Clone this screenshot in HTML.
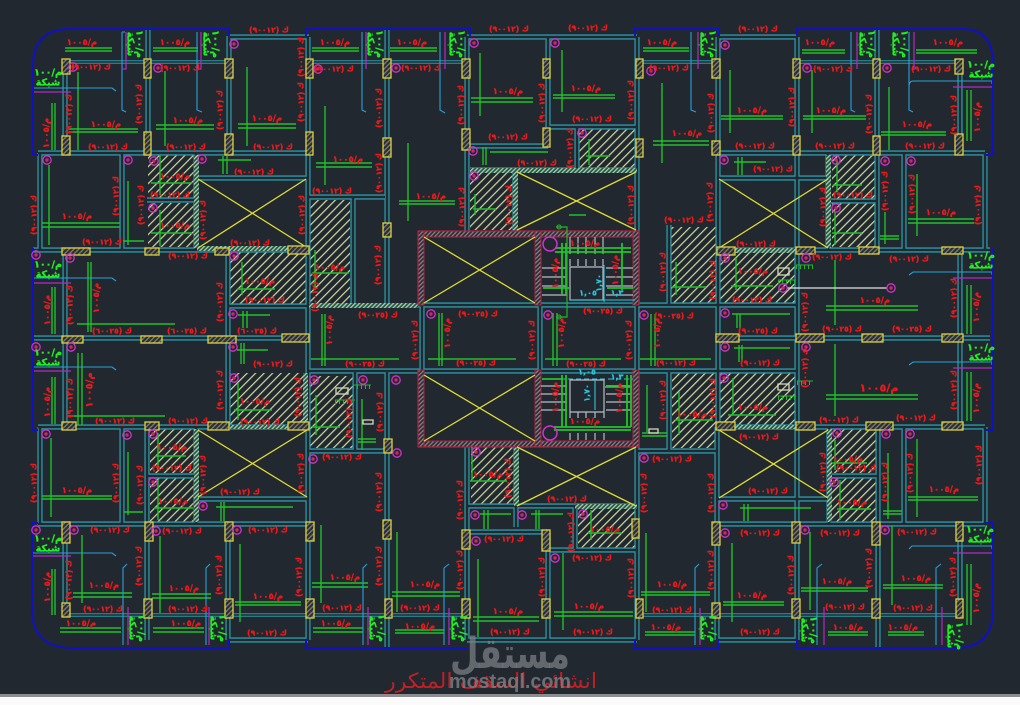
<!DOCTYPE html>
<html lang="ar"><head><meta charset="utf-8"><title>Structural plan</title>
<style>
html,body{margin:0;padding:0;background:#212830}
svg{display:block}
text{font-family:"DejaVu Sans","Liberation Sans",sans-serif;font-weight:bold;text-anchor:middle;dominant-baseline:central;direction:rtl}
.r text,text.r{fill:#ee1a1a;font-size:7.6px;stroke:#ee1a1a;stroke-width:.35px}
.d text{fill:#ee1a1a;font-size:8.6px;letter-spacing:1px;stroke:#ee1a1a;stroke-width:.3px}
.p text{fill:#22f022;font-size:9.5px;stroke:#22f022;stroke-width:.35px}
.y text{fill:#29c8e0;font-size:8px;stroke:#29c8e0;stroke-width:.2px}
.k rect{fill:url(#hk);stroke:#dfd23c;stroke-width:1.3}
.h rect{fill:url(#hy)}
.s rect{fill:url(#hs)}
.w rect{fill:url(#hr);stroke:#b3203e;stroke-width:1}
</style></head>
<body>
<svg xmlns="http://www.w3.org/2000/svg" width="1020" height="705" viewBox="0 0 1020 705">
<defs>
<pattern id="hy" width="6" height="6" patternUnits="userSpaceOnUse" patternTransform="rotate(45)"><rect width="6" height="6" fill="#212830"/><rect width="1.2" height="6" fill="#d0dba0"/></pattern>
<pattern id="hk" width="3.4" height="3.4" patternUnits="userSpaceOnUse" patternTransform="rotate(45)"><rect width="3.4" height="3.4" fill="#2a2d30"/><rect width="1.4" height="3.4" fill="#777a72"/></pattern>
<pattern id="hs" width="3" height="3" patternUnits="userSpaceOnUse" patternTransform="rotate(45)"><rect width="3" height="3" fill="#24505a"/><rect width="1.3" height="3" fill="#a9d596"/></pattern>
<pattern id="hr" width="3" height="3" patternUnits="userSpaceOnUse" patternTransform="rotate(45)"><rect width="3" height="3" fill="#2a2b33"/><rect width="1.3" height="3" fill="#8b7f88"/></pattern>
<g id="c"><circle r="4.2" fill="none" stroke="#d032d0" stroke-width="1.3"/><circle r="1.7" fill="#d8245a"/></g>
<path id="b" d="M65 62V155M148 29V155M229 36V155M229 37H309M308 37V640M387 29V305M467 37V232M467 37H637M548 37V127M548 127H637M467 146H548M470 170H637M637 37V232M577 127V170M515 170V232M308 197H385M353 197V305M418 305H796M309 371H796M422 305V372M540 305V372M637 225V450M669 225V305M669 372V451M718 37V430M797 37V430M717 250H990M717 338H990M33 338H308M717 427H985M33 250H308M38 427H308M38 153H308M717 153H985M40 153V250M122 153V250M196 153V250M196 178H308M147 200H196M228 250V428M65 250V430M228 306H308M40 427V525M122 427V525M147 427V640M196 427V523M148 476H196M196 499H308M38 524H308M65 525V616M228 524V640M228 640H308M308 451H387M355 372V451M387 372V648M467 445V640M516 447V527M468 506H637M468 532H548M548 532V640M575 506V550M548 550H637M637 447V640M467 640H637M637 451H717M717 427V640M717 499H829M717 640H797M797 427V640M829 427V524M829 476H878M878 427V648M904 427V524M985 427V524M717 524H985M960 524V615M718 37H797M877 29V153M960 62V153M985 153V250M904 153V250M877 153V250M828 153V250M717 178H828M828 201H877M960 250V430"/>
<path id="t" d="M65 62H229M309 62H467M640 62H718M797 62H960M65 615H467M640 615H957"/>
</defs>
<rect width="1020" height="705" fill="#212830"/>

<!-- hatched slabs -->
<g class="h">
<rect x="148" y="155" width="47" height="46"/><rect x="148" y="203" width="47" height="44"/>
<rect x="309" y="200" width="41" height="103"/><rect x="578" y="129" width="57" height="39"/>
<rect x="470" y="173" width="43" height="57"/><rect x="670" y="227" width="47" height="78"/>
<rect x="832" y="155" width="44" height="46"/><rect x="832" y="203" width="44" height="44"/>
<rect x="230" y="252" width="77" height="53"/><rect x="720" y="252" width="76" height="52"/>
<rect x="230" y="373" width="77" height="52"/><rect x="310" y="376" width="43" height="72"/>
<rect x="720" y="373" width="76" height="54"/><rect x="672" y="373" width="45" height="75"/>
<rect x="150" y="429" width="45" height="44"/><rect x="150" y="478" width="45" height="44"/>
<rect x="471" y="447" width="44" height="57"/><rect x="578" y="509" width="57" height="39"/>
<rect x="831" y="429" width="46" height="44"/><rect x="831" y="478" width="46" height="44"/>
</g>

<!-- beams -->
<g fill="none">
<use href="#b" stroke="#2b97a5" stroke-width="5.2"/><use href="#b" stroke="#212830" stroke-width="2.6"/>
<use href="#t" stroke="#2b97a5" stroke-width="3.6"/><use href="#t" stroke="#212830" stroke-width="1.4"/>
</g>
<!-- dense strips -->
<g class="s">
<rect x="470" y="168" width="167" height="5"/><rect x="513" y="170" width="5" height="62"/>
<rect x="194" y="155" width="5" height="93"/><rect x="197" y="246" width="111" height="5"/>
<rect x="826" y="155" width="5" height="93"/><rect x="735" y="248" width="61" height="5"/>
<rect x="309" y="303" width="109" height="5"/><rect x="230" y="425" width="58" height="4"/>
<rect x="735" y="425" width="61" height="4"/><rect x="194" y="429" width="5" height="93"/>
<rect x="827" y="429" width="5" height="93"/><rect x="575" y="504" width="62" height="5"/>
<rect x="514" y="447" width="5" height="59"/><rect x="303" y="373" width="5" height="50"/>
</g>

<!-- core -->
<g class="w">
<rect x="418" y="231" width="221" height="6"/><rect x="418" y="231" width="6" height="74"/><rect x="535" y="231" width="6" height="74"/><rect x="633" y="231" width="6" height="74"/>
<rect x="418" y="441" width="221" height="6"/><rect x="418" y="370" width="6" height="77"/><rect x="535" y="370" width="6" height="77"/><rect x="633" y="370" width="6" height="77"/>
</g>
<path d="M418 231H639V305M418 231V305M639 372V447H418V372" fill="none" stroke="#b3203e" stroke-width="1.2"/>

<!-- yellow crosses -->
<path fill="none" stroke="#e0dc34" stroke-width="1.3" d="M198 179L306 247M306 179L198 248M719 179L828 248M828 179L719 248M517 172L636 230M636 172L517 230M424 237L535 303M535 237L424 303M424 375L535 441M535 375L424 441M198 430L307 497M307 430L198 497M719 430L828 498M828 430L719 498M517 447L636 506M636 447L517 506"/>

<!-- stairs -->
<path fill="none" stroke="#b9bcc4" stroke-width="1.2" d="M570 237V254M578 237V254M586 237V254M595 237V254M603 237V254M570 259V266M578 259V266M586 259V266M595 259V266M603 259V266M570 267H603V300H570ZM542 268H567M542 277H567M542 286H567M542 295H567M606 268H633M606 277H633M606 286H633M606 295H633M570 380H604V412H570ZM541 386H567M541 394H567M541 402H567M541 410H567M606 386H631M606 394H631M606 402H631M606 410H631M570 412V418M578 412V418M586 412V418M595 412V418M604 412V418M570 433V440M578 433V440M586 433V440M595 433V440M604 433V440"/>
<path fill="none" stroke="#2bc4dc" stroke-width="1.1" d="M570 300H635M604 265V302M595 380V410"/>
<path fill="none" stroke="#2bc4dc" stroke-width="1.1" stroke-dasharray="5 3" d="M560 379H633"/>

<!-- rebars -->
<path fill="none" stroke="#20c02a" stroke-width="1.4" d="M65 48H112M65 51H112M153 48H198M153 51H198M78 72V150M69 129H138M69 132H138M52 103V150M55 103V150M165 71V146M156 125H214M156 129H214M247 67V146M238 124H296M238 128H296M312 48H359M312 51H359M390 48H437M390 51H437M325 106V185M316 163H372M316 167H372M408 143V221M399 201H455M399 204H455M480 53V116M471 98H533M471 102H533M562 50V112M553 95H615M553 98H615M483 147V165M486 147V165M490 152H548M589 139V165M586 156H610M475 194V215M473 209H496M569 215H586M643 48H689M643 51H689M802 50H845M802 53H845M916 50H977M916 53H977M662 83V163M653 141H709M653 145H709M730 70V133M721 116H783M721 119H783M812 70V133M803 116H866M803 119H866M889 87V150M881 132H946M881 135H946M967 90V141M971 90V141M738 157V175M742 157V175M734 162H766M837 160V192M833 185H862M835 212V245M832 233H862M880 236H899M880 239H899M885 212V244M917 174V236M908 219H974M908 223H974M49 165V245M42 223H120M42 227H120M128 181V245M123 241H144M160 155V195M151 183H192M160 210V246M151 233H192M223 156V174M227 156V174M218 160H251"/>
<path fill="none" stroke="#20c02a" stroke-width="1.4" d="M88 262V332M91 262V332M77 324H175M52 287V334M55 287V334M242 262V295M237 289H275M312 273H349M315 250V290M243 311V328M247 311V328M238 315H270M78 353V425M82 353V425M67 416H165M52 377V424M55 377V424M241 343V364M244 343V364M237 350H268M238 383V420M234 410H272M316 395V435M312 427H340M362 399V450M358 439H376M358 442H376M322 314V366M325 314V366M311 359H399M439 313V366M442 313V366M428 359H516M553 313V366M557 313V366M545 359H621M651 314V366M655 314V366M640 359H711M835 260V325M826 306H918M826 310H918M967 285V334M971 285V334M835 344V416M826 395H918M826 399H918M967 372V421M971 372V421M737 314V328M740 314V328M732 314H790M739 345V362M742 345V362M734 348H790M736 258V290M731 286H773M733 378V415M728 415H776M676 262V295M672 287H706M679 392V435M675 420H713M647 385V432M642 433H667M642 436H667"/>
<path fill="none" stroke="#20c02a" stroke-width="1.4" d="M51 438V517M42 496H112M42 499H112M128 452V515M124 512H143M155 456H186M158 433V470M154 508H193M158 480V520M221 502V521M224 502V521M216 507H293M82 535V603M73 593H132M73 597H132M52 569V615M55 569V615M160 536V613M152 594H211M152 598H211M240 544V622M235 602H301M235 605H301M321 525V603M312 583H368M312 587H368M397 532V612M392 592H460M392 596H460M60 628H121M60 632H121M153 628H204M153 632H204M313 628H363M313 632H363M395 630H444M395 633H444M478 559V637M473 617H539M473 621H539M563 553V630M554 612H633M554 616H633M646 533V612M641 592H710M641 595H710M645 632H695M645 635H695M484 510V529M488 510V529M480 514H511M536 510V529M539 510V529M531 514H563M472 447V480M470 481H507M591 510V540M588 533H622M744 504V521M748 504V521M740 508H811M732 543V622M723 602H784M723 605H784M810 532V610M801 588H868M801 591H868M892 526V605M883 585H943M883 588H943M828 632H868M828 635H868M888 632H924M888 635H924M967 564V625M971 564V625M835 440V470M832 463H867M840 480V520M837 509H871M888 453V519M883 511H902M883 514H902M917 439V517M908 497H978M908 500H978"/>
<path fill="none" stroke="#22c42a" stroke-width="1.8" d="M555 248H631M555 252H631M562 243V294M566 243V294M622 243V290M543 288H570M607 288H633M554 427H631M554 430H631M562 375V427M566 375V427M627 375V427M631 375V427M542 379H563M605 387H632"/>
<path fill="none" stroke="#22b62a" stroke-width="1.2" d="M556 227H567V317H556"/><circle cx="559" cy="227" r="2" fill="none" stroke="#22b62a"/><circle cx="559" cy="317" r="2" fill="none" stroke="#22b62a"/>
<path fill="none" stroke="#22b62a" stroke-width="1" d="M353 385H371M335 400H355M796 265H813M778 280H796M797 381H813M778 396H796"/>
<path fill="none" stroke="#22b62a" stroke-width="4" stroke-dasharray="1 3" d="M353 387H371M335 402H355M796 267H813M778 282H796M797 383H813M778 398H796"/>
<path fill="none" stroke="#d9dbc0" stroke-width="1.3" d="M336 388h12v6h-12zM363 420h10v4h-10zM778 268h11v7h-11zM778 384h11v6h-11zM649 429h9v4h-9z"/>
<path fill="none" stroke="#e4e4e4" stroke-width="1.3" d="M787 288H887"/>

<!-- slab edges -->
<path fill="none" stroke="#2a9fd8" stroke-width="1.1" d="M33 88H112L116 91M122 32H125M122 32V110L126 112M197 32V110L202 112M362 32V110L366 112M440 32V110L445 113M691 32V110L696 112M851 32V110L855 112M909 32V87Q909 81 913 81H992V84M909 32V110L913 112M33 278H112L116 281M33 367H112L116 370M909 275L913 272H992V275M909 365L913 362H992V365M33 553H112L116 556M123 645V568L127 564M206 645V568L210 564M363 645V568L367 564M444 645V568L449 564M695 645V568L699 564M817 645V568L822 564M936 645V568L941 564M909 549L912 546H992V549"/>
<path fill="none" stroke="#b02cc4" stroke-width="1.2" d="M33 92H71M126 32V69L122 69M201 32V69L197 69M366 32V69M445 32V69M698 32V69M857 32V69M914 32V70M953 87H992M33 283H71M33 371H71M953 278H992M953 368H992M33 556H71M128 607V645M209 607V645M368 607V645M449 608V645M700 608V645M824 607V645M942 607V645M953 553H992"/>

<!-- blue outline -->
<path fill="none" stroke="#1010c4" stroke-width="2" d="M38 155H33V66Q33 29 70 29H229V36M306 36V29H470V36M635 36V29H719V36M797 36V29H962Q993 29 993 64V155H985M33 248V430H38M993 248V430H985M38 523H32V608Q32 648 72 648H229V640M306 640V648H467M635 640V648H718V640M797 640V648H955Q993 648 993 610V523H985"/>

<!-- columns -->
<g class="k">
<rect x="62" y="59" width="8" height="15"/><rect x="144" y="59" width="7" height="19"/><rect x="225" y="59" width="8" height="19"/><rect x="306" y="59" width="7" height="19"/><rect x="383" y="59" width="8" height="19"/><rect x="462" y="59" width="8" height="19"/><rect x="543" y="59" width="7" height="19"/><rect x="636" y="59" width="7" height="19"/><rect x="712" y="59" width="8" height="19"/><rect x="793" y="59" width="7" height="19"/><rect x="873" y="59" width="7" height="19"/><rect x="955" y="59" width="8" height="15"/>
<rect x="62" y="136" width="8" height="19"/><rect x="144" y="132" width="7" height="23"/><rect x="225" y="134" width="8" height="21"/><rect x="306" y="132" width="7" height="23"/><rect x="383" y="138" width="8" height="19"/><rect x="383" y="223" width="8" height="14"/><rect x="462" y="129" width="8" height="21"/><rect x="543" y="128" width="7" height="19"/><rect x="636" y="139" width="7" height="18"/><rect x="712" y="141" width="8" height="14"/><rect x="793" y="136" width="7" height="19"/><rect x="873" y="136" width="7" height="19"/><rect x="955" y="134" width="8" height="21"/>
<rect x="62" y="248" width="28" height="7"/><rect x="145" y="248" width="14" height="7"/><rect x="215" y="248" width="14" height="7"/><rect x="288" y="246" width="21" height="8"/><rect x="717" y="247" width="18" height="8"/><rect x="796" y="247" width="19" height="7"/><rect x="859" y="247" width="20" height="7"/><rect x="942" y="247" width="21" height="7"/>
<rect x="62" y="336" width="21" height="7"/><rect x="141" y="336" width="21" height="7"/><rect x="208" y="336" width="28" height="7"/><rect x="282" y="334" width="27" height="8"/><rect x="716" y="334" width="23" height="8"/><rect x="796" y="334" width="28" height="8"/><rect x="862" y="334" width="21" height="8"/><rect x="942" y="334" width="21" height="8"/>
<rect x="62" y="422" width="14" height="8"/><rect x="145" y="422" width="14" height="8"/><rect x="208" y="422" width="21" height="8"/><rect x="288" y="422" width="21" height="8"/><rect x="716" y="422" width="19" height="8"/><rect x="796" y="422" width="19" height="8"/><rect x="866" y="422" width="27" height="8"/><rect x="942" y="422" width="21" height="8"/><rect x="384" y="439" width="8" height="14"/>
<rect x="62" y="522" width="8" height="21"/><rect x="145" y="522" width="8" height="19"/><rect x="225" y="522" width="8" height="19"/><rect x="306" y="522" width="8" height="19"/><rect x="383" y="520" width="8" height="19"/><rect x="462" y="530" width="8" height="19"/><rect x="542" y="530" width="8" height="21"/><rect x="632" y="519" width="7" height="19"/><rect x="712" y="522" width="8" height="23"/><rect x="792" y="522" width="8" height="21"/><rect x="872" y="522" width="8" height="23"/><rect x="956" y="522" width="7" height="19"/>
<rect x="62" y="603" width="8" height="14"/><rect x="144" y="599" width="8" height="19"/><rect x="225" y="599" width="8" height="19"/><rect x="306" y="599" width="8" height="19"/><rect x="385" y="599" width="7" height="19"/><rect x="462" y="599" width="8" height="19"/><rect x="542" y="599" width="8" height="19"/><rect x="636" y="599" width="7" height="19"/><rect x="712" y="603" width="8" height="15"/><rect x="792" y="599" width="8" height="19"/><rect x="872" y="599" width="8" height="19"/><rect x="956" y="599" width="7" height="19"/>
</g>

<!-- markers -->
<g>
<use href="#c" x="73" y="67"/><use href="#c" x="158" y="68"/><use href="#c" x="234" y="44"/><use href="#c" x="318" y="69"/><use href="#c" x="47" y="160"/><use href="#c" x="128" y="160"/><use href="#c" x="154" y="161"/><use href="#c" x="202" y="159"/><use href="#c" x="153" y="208"/><use href="#c" x="396" y="68"/><use href="#c" x="474" y="43"/><use href="#c" x="555" y="43"/><use href="#c" x="651" y="71"/><use href="#c" x="473" y="151"/><use href="#c" x="582" y="133"/><use href="#c" x="474" y="176"/><use href="#c" x="725" y="45"/><use href="#c" x="807" y="68"/><use href="#c" x="887" y="68"/><use href="#c" x="724" y="160"/><use href="#c" x="836" y="160"/><use href="#c" x="885" y="161"/><use href="#c" x="911" y="161"/><use href="#c" x="836" y="208"/>
<use href="#c" x="36" y="255"/><use href="#c" x="70" y="258"/><use href="#c" x="234" y="256"/><use href="#c" x="233" y="314"/><use href="#c" x="36" y="347"/><use href="#c" x="71" y="347"/><use href="#c" x="233" y="347"/><use href="#c" x="234" y="378"/><use href="#c" x="314" y="380"/><use href="#c" x="363" y="380"/><use href="#c" x="396" y="380"/><use href="#c" x="397" y="453"/><use href="#c" x="313" y="459"/><use href="#c" x="431" y="314"/><use href="#c" x="548" y="315"/><use href="#c" x="644" y="315"/><use href="#c" x="725" y="258"/><use href="#c" x="806" y="258"/><use href="#c" x="783" y="288"/><use href="#c" x="891" y="288"/><use href="#c" x="725" y="313"/><use href="#c" x="725" y="347"/><use href="#c" x="806" y="347"/><use href="#c" x="724" y="378"/><use href="#c" x="837" y="433"/><use href="#c" x="886" y="434"/><use href="#c" x="910" y="434"/><use href="#c" x="644" y="458"/>
<use href="#c" x="46" y="434"/><use href="#c" x="127" y="435"/><use href="#c" x="153" y="434"/><use href="#c" x="153" y="482"/><use href="#c" x="203" y="506"/><use href="#c" x="36" y="530"/><use href="#c" x="74" y="530"/><use href="#c" x="156" y="531"/><use href="#c" x="237" y="530"/><use href="#c" x="476" y="452"/><use href="#c" x="475" y="515"/><use href="#c" x="522" y="515"/><use href="#c" x="583" y="514"/><use href="#c" x="476" y="541"/><use href="#c" x="555" y="558"/><use href="#c" x="834" y="482"/><use href="#c" x="723" y="505"/><use href="#c" x="725" y="533"/><use href="#c" x="805" y="530"/><use href="#c" x="885" y="530"/>
</g>
<g fill="none" stroke="#d032d0" stroke-width="1.5"><circle cx="550" cy="244" r="7"/><circle cx="550" cy="433" r="7"/></g>

<!-- beam labels horizontal -->
<g class="r">
<text x="91" y="67">ك (٩٠٠١٢)</text><text x="180" y="68">ك (٩٠٠١٢)</text><text x="269" y="30">ك (٩٠٠١٢)</text><text x="108" y="147">ك (٩٠٠١٢)</text><text x="186" y="147">ك (٩٠٠١٢)</text><text x="273" y="147">ك (٩٠٠١٢)</text><text x="254" y="172">ك (٩٠٠١٢)</text><text x="170" y="195">ك (٩٠٠١٢)</text><text x="102" y="242">ك (٩٠٠١٢)</text><text x="250" y="243">ك (٩٠٠١٢)</text>
<text x="334" y="69">ك (٩٠٠١٢)</text><text x="421" y="68">ك (٩٠٠١٢)</text><text x="509" y="29">ك (٩٠٠١٢)</text><text x="588" y="28">ك (٩٠٠١٢)</text><text x="508" y="137">ك (٩٠٠١٢)</text><text x="592" y="119">ك (٩٠٠١٢)</text><text x="537" y="163">ك (٩٠٠١٢)</text><text x="332" y="191">ك (٩٠٠١٢)</text>
<text x="669" y="68">ك (٩٠٠١٢)</text><text x="758" y="29">ك (٩٠٠١٢)</text><text x="833" y="69">ك (٩٠٠١٢)</text><text x="931" y="69">ك (٩٠٠١٢)</text><text x="755" y="146">ك (٩٠٠١٢)</text><text x="835" y="146">ك (٩٠٠١٢)</text><text x="925" y="146">ك (٩٠٠١٢)</text><text x="773" y="169">ك (٩٠٠١٢)</text><text x="853" y="195">ك (٩٠٠١٢)</text><text x="684" y="220">ك (٩٠٠١٢)</text><text x="756" y="244">ك (٩٠٠١٢)</text>
<text x="188" y="256">ك (٩٠٠١٢)</text><text x="112" y="331">ك (٦٠٠٢٥)</text><text x="187" y="331">ك (٦٠٠٢٥)</text><text x="257" y="331">ك (٦٠٠٢٥)</text><text x="265" y="300">ك (٩٠٠١٢)</text><text x="378" y="315">ك (٩٠٠٢٥)</text><text x="365" y="364">ك (٩٠٠٢٥)</text><text x="273" y="364">ك (٩٠٠١٢)</text><text x="115" y="421">ك (٩٠٠١٢)</text><text x="188" y="421">ك (٩٠٠١٢)</text><text x="260" y="422">ك (٩٠٠١٢)</text><text x="342" y="457">ك (٩٠٠١٢)</text>
<text x="478" y="314">ك (٩٠٠٢٥)</text><text x="603" y="311">ك (٩٠٠٢٥)</text><text x="476" y="363">ك (٩٠٠٢٥)</text><text x="586" y="364">ك (٩٠٠٢٥)</text>
<text x="832" y="257">ك (٩٠٠١٢)</text><text x="909" y="259">ك (٩٠٠١٢)</text><text x="752" y="300">ك (٩٠٠١٢)</text><text x="674" y="316">ك (٩٠٠٢٥)</text><text x="758" y="331">ك (٩٠٠٢٥)</text><text x="842" y="329">ك (٩٠٠٢٥)</text><text x="912" y="329">ك (٩٠٠٢٥)</text><text x="676" y="363">ك (٩٠٠١٢)</text><text x="760" y="363">ك (٩٠٠١٢)</text><text x="839" y="420">ك (٩٠٠١٢)</text><text x="916" y="418">ك (٩٠٠١٢)</text><text x="759" y="437">ك (٩٠٠١٢)</text>
<text x="110" y="530">ك (٩٠٠١٢)</text><text x="182" y="531">ك (٩٠٠١٢)</text><text x="268" y="530">ك (٩٠٠١٢)</text><text x="103" y="609">ك (٩٠٠١٢)</text><text x="188" y="609">ك (٩٠٠١٢)</text><text x="267" y="633">ك (٩٠٠١٢)</text><text x="342" y="608">ك (٩٠٠١٢)</text><text x="172" y="468">ك (٩٠٠١٢)</text><text x="240" y="492">ك (٩٠٠١٢)</text>
<text x="567" y="499">ك (٩٠٠١٢)</text><text x="672" y="459">ك (٩٠٠١٢)</text><text x="504" y="539">ك (٩٠٠١٢)</text><text x="592" y="558">ك (٩٠٠١٢)</text><text x="420" y="608">ك (٩٠٠١٢)</text><text x="510" y="632">ك (٩٠٠١٢)</text><text x="593" y="632">ك (٩٠٠١٢)</text><text x="672" y="610">ك (٩٠٠١٢)</text>
<text x="768" y="491">ك (٩٠٠١٢)</text><text x="856" y="468">ك (٩٠٠١٢)</text><text x="760" y="533">ك (٩٠٠١٢)</text><text x="840" y="533">ك (٩٠٠١٢)</text><text x="917" y="532">ك (٩٠٠١٢)</text><text x="845" y="607">ك (٩٠٠١٢)</text><text x="913" y="608">ك (٩٠٠١٢)</text><text x="760" y="632">ك (٩٠٠١٢)</text>
</g>

<!-- beam labels vertical -->
<g class="r">
<text transform="translate(69 114)rotate(-90)">ك (٩٠٠١٢)</text><text transform="translate(139 104)rotate(-90)">ك (٩٠٠١٢)</text><text transform="translate(220 110)rotate(-90)">ك (٩٠٠١٢)</text><text transform="translate(301 57)rotate(-90)">ك (٩٠٠١٢)</text><text transform="translate(301 102)rotate(-90)">ك (٩٠٠١٢)</text><text transform="translate(34 215)rotate(-90)">ك (٩٠٠١٢)</text><text transform="translate(116 196)rotate(-90)">ك (٩٠٠١٢)</text><text transform="translate(141 205)rotate(-90)">ك (٩٠٠١٢)</text><text transform="translate(203 220)rotate(-90)">ك (٩٠٠١٢)</text><text transform="translate(302 215)rotate(-90)">ك (٩٠٠١٢)</text>
<text transform="translate(379 108)rotate(-90)">ك (٩٠٠١٢)</text><text transform="translate(379 173)rotate(-90)">ك (٩٠٠١٢)</text><text transform="translate(461 105)rotate(-90)">ك (٩٠٠١٢)</text><text transform="translate(542 103)rotate(-90)">ك (٩٠٠١٢)</text><text transform="translate(570 148)rotate(-90)">ك (٩٠٠١٢)</text><text transform="translate(462 207)rotate(-90)">ك (٩٠٠١٢)</text><text transform="translate(509 205)rotate(-90)">ك (٩٠٠١٢)</text><text transform="translate(631 100)rotate(-90)">ك (٩٠٠١٢)</text><text transform="translate(631 205)rotate(-90)">ك (٩٠٠١٢)</text>
<text transform="translate(711 113)rotate(-90)">ك (٩٠٠١٢)</text><text transform="translate(792 107)rotate(-90)">ك (٩٠٠١٢)</text><text transform="translate(869 114)rotate(-90)">ك (٩٠٠١٢)</text><text transform="translate(954 115)rotate(-90)">ك (٩٠٠١٢)</text><text transform="translate(710 202)rotate(-90)">ك (٩٠٠١٢)</text><text transform="translate(823 207)rotate(-90)">ك (٩٠٠١٢)</text><text transform="translate(885 191)rotate(-90)">ك (٩٠٠١٢)</text><text transform="translate(912 194)rotate(-90)">ك (٩٠٠١٢)</text><text transform="translate(978 205)rotate(-90)">ك (٩٠٠١٢)</text>
<text transform="translate(70 305)rotate(-90)">ك (٩٠٠١٢)</text><text transform="translate(220 302)rotate(-90)">ك (٩٠٠١٢)</text><text transform="translate(315 292)rotate(-90)">ك (٩٠٠١٢)</text><text transform="translate(378 265)rotate(-90)">ك (٩٠٠١٢)</text><text transform="translate(415 340)rotate(-90)">ك (٩٠٠١٢)</text><text transform="translate(70 398)rotate(-90)">ك (٩٠٠١٢)</text><text transform="translate(220 390)rotate(-90)">ك (٩٠٠١٢)</text><text transform="translate(298 397)rotate(-90)">ك (٩٠٠١٢)</text><text transform="translate(349 418)rotate(-90)">ك (٩٠٠١٢)</text><text transform="translate(380 412)rotate(-90)">ك (٩٠٠١٢)</text>
<text transform="translate(532 340)rotate(-90)">ك (٩٠٠١٢)</text><text transform="translate(629 340)rotate(-90)">ك (٩٠٠١٢)</text>
<text transform="translate(663 272)rotate(-90)">ك (٩٠٠١٢)</text><text transform="translate(713 280)rotate(-90)">ك (٩٠٠١٢)</text><text transform="translate(805 312)rotate(-90)">ك (٩٠٠١٢)</text><text transform="translate(954 298)rotate(-90)">ك (٩٠٠١٢)</text><text transform="translate(805 368)rotate(-90)">ك (٩٠٠١٢)</text><text transform="translate(663 400)rotate(-90)">ك (٩٠٠١٢)</text><text transform="translate(713 398)rotate(-90)">ك (٩٠٠١٢)</text><text transform="translate(954 390)rotate(-90)">ك (٩٠٠١٢)</text>
<text transform="translate(34 483)rotate(-90)">ك (٩٠٠١٢)</text><text transform="translate(116 483)rotate(-90)">ك (٩٠٠١٢)</text><text transform="translate(140 485)rotate(-90)">ك (٩٠٠١٢)</text><text transform="translate(203 475)rotate(-90)">ك (٩٠٠١٢)</text><text transform="translate(301 473)rotate(-90)">ك (٩٠٠١٢)</text><text transform="translate(69 580)rotate(-90)">ك (٩٠٠١٢)</text><text transform="translate(139 566)rotate(-90)">ك (٩٠٠١٢)</text><text transform="translate(219 575)rotate(-90)">ك (٩٠٠١٢)</text><text transform="translate(299 577)rotate(-90)">ك (٩٠٠١٢)</text><text transform="translate(379 492)rotate(-90)">ك (٩٠٠١٢)</text><text transform="translate(379 566)rotate(-90)">ك (٩٠٠١٢)</text>
<text transform="translate(460 500)rotate(-90)">ك (٩٠٠١٢)</text><text transform="translate(508 478)rotate(-90)">ك (٩٠٠١٢)</text><text transform="translate(571 532)rotate(-90)">ك (٩٠٠١٢)</text><text transform="translate(644 493)rotate(-90)">ك (٩٠٠١٢)</text><text transform="translate(460 570)rotate(-90)">ك (٩٠٠١٢)</text><text transform="translate(542 577)rotate(-90)">ك (٩٠٠١٢)</text><text transform="translate(631 578)rotate(-90)">ك (٩٠٠١٢)</text><text transform="translate(711 493)rotate(-90)">ك (٩٠٠١٢)</text><text transform="translate(711 570)rotate(-90)">ك (٩٠٠١٢)</text>
<text transform="translate(823 472)rotate(-90)">ك (٩٠٠١٢)</text><text transform="translate(885 482)rotate(-90)">ك (٩٠٠١٢)</text><text transform="translate(910 473)rotate(-90)">ك (٩٠٠١٢)</text><text transform="translate(979 465)rotate(-90)">ك (٩٠٠١٢)</text><text transform="translate(791 575)rotate(-90)">ك (٩٠٠١٢)</text><text transform="translate(869 568)rotate(-90)">ك (٩٠٠١٢)</text><text transform="translate(953 577)rotate(-90)">ك (٩٠٠١٢)</text>
</g>

<!-- reinforcement labels -->
<g class="d">
<text x="82" y="43">م/١٠٠٥</text><text x="175" y="43">م/١٠٠٥</text><text x="106" y="125">م/١٠٠٥</text><text x="188" y="121">م/١٠٠٥</text><text x="267" y="119">م/١٠٠٥</text><text x="77" y="217">م/١٠٠٥</text><text x="175" y="177">م/١٠٠٥</text><text x="175" y="226">م/١٠٠٥</text><text x="335" y="43">م/١٠٠٥</text><text x="412" y="43">م/١٠٠٥</text><text x="508" y="92">م/١٠٠٥</text><text x="586" y="89">م/١٠٠٥</text><text x="348" y="160">م/١٠٠٥</text><text x="431" y="197">م/١٠٠٥</text><text x="662" y="43">م/١٠٠٥</text><text x="820" y="43">م/١٠٠٥</text><text x="948" y="43">م/١٠٠٥</text><text x="687" y="134">م/١٠٠٥</text><text x="752" y="111">م/١٠٠٥</text><text x="831" y="111">م/١٠٠٥</text><text x="917" y="125">م/١٠٠٥</text><text x="941" y="213">م/١٠٠٥</text><text x="875" y="301">م/١٠٠٥</text><text x="879" y="388" style="font-size:11px">م/١٠٠٥</text><text x="77" y="491">م/١٠٠٥</text><text x="104" y="586">م/١٠٠٥</text><text x="184" y="589">م/١٠٠٥</text><text x="268" y="597">م/١٠٠٥</text><text x="345" y="578">م/١٠٠٥</text><text x="81" y="624">م/١٠٠٥</text><text x="186" y="624">م/١٠٠٥</text><text x="336" y="624">م/١٠٠٥</text><text x="425" y="585">م/١٠٠٥</text><text x="508" y="612">م/١٠٠٥</text><text x="589" y="607">م/١٠٠٥</text><text x="672" y="585">م/١٠٠٥</text><text x="420" y="627">م/١٠٠٥</text><text x="666" y="628">م/١٠٠٥</text><text x="752" y="596">م/١٠٠٥</text><text x="837" y="582">م/١٠٠٥</text><text x="916" y="579">م/١٠٠٥</text><text x="944" y="490">م/١٠٠٥</text><text x="848" y="628">م/١٠٠٥</text><text x="903" y="628">م/١٠٠٥</text>
<text x="172" y="448">م/١٠٠٥</text><text x="173" y="502">م/١٠٠٥</text><text x="488" y="475">م/١٠٠٥</text><text x="605" y="530">م/١٠٠٥</text><text x="848" y="460">م/١٠٠٥</text><text x="852" y="503">م/١٠٠٥</text><text x="585" y="244">م/١٠٠٥</text><text x="585" y="422">م/١٠٠٥</text><text x="260" y="282">م/١٠٠٥</text><text x="330" y="268">م/١٠٠٥</text><text x="753" y="272">م/١٠٠٥</text><text x="753" y="408">م/١٠٠٥</text><text x="692" y="415">م/١٠٠٥</text><text x="255" y="402">م/١٠٠٥</text>
<text transform="translate(47 133)rotate(-90)">م/١٠٠٥</text><text transform="translate(978 117)rotate(-90)">م/١٠٠٥</text><text transform="translate(97 298)rotate(-90)">م/١٠٠٥</text><text transform="translate(48 310)rotate(-90)">م/١٠٠٥</text><text transform="translate(330 330)rotate(-90)">م/١٠٠٥</text><text transform="translate(90 390)rotate(-90)" style="font-size:10px">م/١٠٠٥</text><text transform="translate(48 402)rotate(-90)">م/١٠٠٥</text><text transform="translate(448 333)rotate(-90)">م/١٠٠٥</text><text transform="translate(562 333)rotate(-90)">م/١٠٠٥</text><text transform="translate(658 333)rotate(-90)">م/١٠٠٥</text><text transform="translate(977 307)rotate(-90)">م/١٠٠٥</text><text transform="translate(977 398)rotate(-90)">م/١٠٠٥</text><text transform="translate(48 587)rotate(-90)">م/١٠٠٥</text><text transform="translate(977 598)rotate(-90)">م/١٠٠٥</text><text transform="translate(556 273)rotate(-90)">م/١٠٠٥</text><text transform="translate(616 270)rotate(-90)">م/١٠٠٥</text><text transform="translate(556 397)rotate(-90)">م/١٠٠٥</text><text transform="translate(620 398)rotate(-90)">م/١٠٠٥</text>
</g>

<!-- core dimensions -->
<g class="y">
<text x="588" y="293">١,٠٥</text><text x="617" y="293">١,٣</text><text transform="translate(599 283)rotate(-90)">١,٧٠</text>
<text x="587" y="372">١,٠٥</text><text x="617" y="377">١,٣</text><text transform="translate(587 393)rotate(-90)">١,٧٠</text>
</g>

<!-- bright green notes -->
<g class="p">
<g transform="translate(135 44)rotate(90)"><text y="-4">م/١٠٠</text><text y="5">شبكة</text></g>
<g transform="translate(211 44)rotate(90)"><text y="-4">م/١٠٠</text><text y="5">شبكة</text></g>
<g transform="translate(375 44)rotate(90)"><text y="-4">م/١٠٠</text><text y="5">شبكة</text></g>
<g transform="translate(457 44)rotate(90)"><text y="-4">م/١٠٠</text><text y="5">شبكة</text></g>
<g transform="translate(708 44)rotate(90)"><text y="-4">م/١٠٠</text><text y="5">شبكة</text></g>
<g transform="translate(867 44)rotate(90)"><text y="-4">م/١٠٠</text><text y="5">شبكة</text></g>
<g transform="translate(900 44)rotate(90)"><text y="-4">م/١٠٠</text><text y="5">شبكة</text></g>
<g transform="translate(137 628)rotate(90)"><text y="-4">م/١٠٠</text><text y="5">شبكة</text></g>
<g transform="translate(218 628)rotate(90)"><text y="-4">م/١٠٠</text><text y="5">شبكة</text></g>
<g transform="translate(377 628)rotate(90)"><text y="-4">م/١٠٠</text><text y="5">شبكة</text></g>
<g transform="translate(459 628)rotate(90)"><text y="-4">م/١٠٠</text><text y="5">شبكة</text></g>
<g transform="translate(708 628)rotate(90)"><text y="-4">م/١٠٠</text><text y="5">شبكة</text></g>
<g transform="translate(809 630)rotate(90)"><text y="-4">م/١٠٠</text><text y="5">شبكة</text></g>
<g transform="translate(955 636)rotate(90)"><text y="-4">م/١٠٠</text><text y="5">شبكة</text></g>
<g transform="translate(48 78)"><text y="-5">م/١٠٠</text><text y="5">شبكة</text></g>
<g transform="translate(981 70)"><text y="-5">م/١٠٠</text><text y="5">شبكة</text></g>
<g transform="translate(48 270)"><text y="-5">م/١٠٠</text><text y="5">شبكة</text></g>
<g transform="translate(48 358)"><text y="-5">م/١٠٠</text><text y="5">شبكة</text></g>
<g transform="translate(981 261)"><text y="-5">م/١٠٠</text><text y="5">شبكة</text></g>
<g transform="translate(981 353)"><text y="-5">م/١٠٠</text><text y="5">شبكة</text></g>
<g transform="translate(48 544)"><text y="-5">م/١٠٠</text><text y="5">شبكة</text></g>
<g transform="translate(980 535)"><text y="-5">م/١٠٠</text><text y="5">شبكة</text></g>
</g>

<!-- title and watermark -->
<text x="491" y="681" style="fill:#c21f24;font-size:21px;font-weight:normal" textLength="212" lengthAdjust="spacingAndGlyphs">انشائي السقف المتكرر</text>
<text x="510" y="654" style="fill:#7d8186;fill-opacity:.72;font-size:43px" textLength="120" lengthAdjust="spacingAndGlyphs">مستقل</text>
<text x="510" y="682" style="fill:#7d8186;fill-opacity:.8;font-family:'Liberation Sans',sans-serif;font-size:20px;direction:ltr" textLength="122" lengthAdjust="spacingAndGlyphs">mostaql.com</text>

<rect x="0" y="694" width="1020" height="3" fill="#8b8d90"/>
<rect x="0" y="697" width="1020" height="8" fill="#fbfbfb"/>
</svg>
</body></html>
